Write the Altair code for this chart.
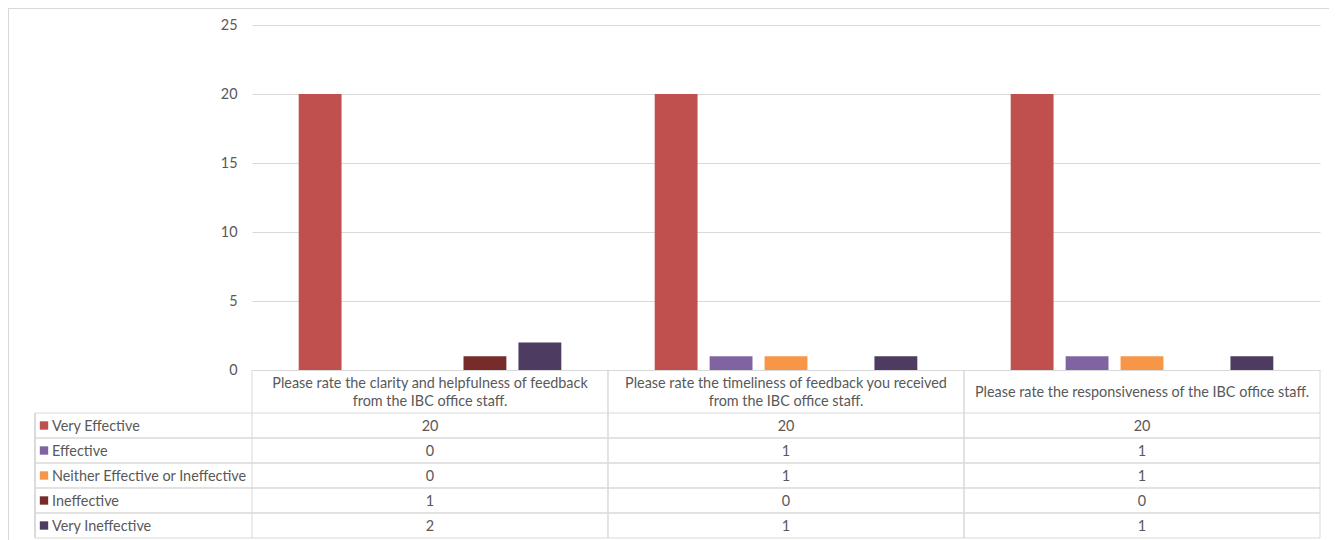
import altair as alt
import pandas as pd

# ---------------- data ----------------
questions = [
    "Please rate the clarity and helpfulness of feedback from the IBC office staff.",
    "Please rate the timeliness of feedback you received from the IBC office staff.",
    "Please rate the responsiveness of the IBC office staff.",
]
series = [
    "Very Effective",
    "Effective",
    "Neither Effective or Ineffective",
    "Ineffective",
    "Very Ineffective",
]
q1_values = [20, 0, 0, 1, 2]
q2_values = [20, 1, 1, 0, 1]
q3_values = [20, 1, 1, 0, 1]
colors = ["#C0504D", "#8064A2", "#F79646", "#772C2A", "#4D3B62"]
y_ticks = [0, 5, 10, 15, 20, 25]

rows = []
for q, vals in zip(questions, [q1_values, q2_values, q3_values]):
    for s, v in zip(series, vals):
        rows.append({"question": q, "series": s, "value": v})
df = pd.DataFrame(rows)
series_df = pd.DataFrame({"series": series})
question_df = pd.DataFrame({"question": questions})

# ---------------- geometry / style ----------------
W = 1068          # plot area width
H = 345           # plot area height (bars)
HEADER_H = 43     # header row of the data table
TABLE_TOP = H + HEADER_H
TABLE_BOTTOM = TABLE_TOP + 25 * len(series)
LABEL_LEFT = -217  # left edge of the series-label column
FONT = "Lato"
FS = 14.4
TXT = "#595959"
LINE = "#D9D9D9"

x_scale = alt.Scale(domain=questions, paddingInner=0, paddingOuter=0)
off_scale = alt.Scale(domain=series, paddingInner=0.22, paddingOuter=0.85)
color_scale = alt.Scale(domain=series, range=colors)
row_scale = alt.Scale(domain=series, range=[TABLE_TOP, TABLE_BOTTOM],
                      paddingInner=0, paddingOuter=0)

wrap_test = "indexof(datum.label, ' from the IBC') >= 0"
label_expr = "split(replace(datum.label, ' from the IBC', '|from the IBC'), '|')"

bars = alt.Chart(df).mark_bar(stroke=None).encode(
    x=alt.X("question:N", scale=x_scale, sort=questions, title=None,
            axis=alt.Axis(domain=False, ticks=False, labelAngle=0,
                          labelAlign="center", labelBaseline="middle",
                          labelPadding={"condition": {"test": wrap_test, "value": 13.5},
                                        "value": HEADER_H / 2 + 0.5},
                          labelLimit=400,
                          labelLineHeight=18, labelExpr=label_expr,
                          labelFont=FONT, labelFontSize=FS, labelColor=TXT)),
    xOffset=alt.XOffset("series:N", scale=off_scale, sort=series),
    y=alt.Y("value:Q", scale=alt.Scale(domain=[0, 25], nice=False), title=None,
            axis=alt.Axis(values=y_ticks, domain=False, ticks=False,
                          labelPadding=15, labelFont=FONT, labelFontSize=FS,
                          labelColor=TXT, gridColor=LINE, gridWidth=1)),
    color=alt.Color("series:N", scale=color_scale, sort=series, legend=None),
)

cell_text = alt.Chart(df).mark_text(font=FONT, fontSize=FS, color=TXT, dy=1,
                                    baseline="middle", align="center").encode(
    x=alt.X("question:N", scale=x_scale, sort=questions),
    y=alt.Y("series:N", scale=row_scale, sort=series, axis=None),
    text=alt.Text("value:Q"),
)

legend_keys = alt.Chart(series_df).mark_square(size=70, opacity=1).encode(
    x=alt.value(LABEL_LEFT + 9),
    y=alt.Y("series:N", scale=row_scale, sort=series, axis=None),
    color=alt.Color("series:N", scale=color_scale, sort=series, legend=None),
)

legend_labels = alt.Chart(series_df).mark_text(
    font=FONT, fontSize=FS, color=TXT, align="left", baseline="middle", dy=1
).encode(
    x=alt.value(LABEL_LEFT + 17),
    y=alt.Y("series:N", scale=row_scale, sort=series, axis=None),
    text="series:N",
)

row_top_lines = alt.Chart(series_df).mark_rule(color=LINE, strokeWidth=1).encode(
    x=alt.value(LABEL_LEFT), x2=alt.value(W),
    y=alt.Y("series:N", scale=row_scale, sort=series, axis=None, bandPosition=0),
)
row_bottom_lines = alt.Chart(series_df).mark_rule(color=LINE, strokeWidth=1).encode(
    x=alt.value(LABEL_LEFT), x2=alt.value(W),
    y=alt.Y("series:N", scale=row_scale, sort=series, axis=None, bandPosition=1),
)

col_left_lines = alt.Chart(question_df).mark_rule(color=LINE, strokeWidth=1).encode(
    x=alt.X("question:N", scale=x_scale, sort=questions, bandPosition=0),
    y=alt.value(H), y2=alt.value(TABLE_BOTTOM),
)
col_right_lines = alt.Chart(question_df).mark_rule(color=LINE, strokeWidth=1).encode(
    x=alt.X("question:N", scale=x_scale, sort=questions, bandPosition=1),
    y=alt.value(H), y2=alt.value(TABLE_BOTTOM),
)
label_col_line = alt.Chart(series_df).mark_rule(color=LINE, strokeWidth=1).encode(
    x=alt.value(LABEL_LEFT), y=alt.value(TABLE_TOP), y2=alt.value(TABLE_BOTTOM),
)

# outer chart border (top and left edges)
border_top = alt.Chart(series_df).mark_rule(color=LINE, strokeWidth=1).encode(
    x=alt.value(-243.5), x2=alt.value(W + 20), y=alt.value(-16.5),
)
border_left = alt.Chart(series_df).mark_rule(color=LINE, strokeWidth=1).encode(
    x=alt.value(-243.5), y=alt.value(-16.5), y2=alt.value(TABLE_BOTTOM + 20),
)

chart = alt.layer(
    border_top, border_left,
    bars, col_left_lines, col_right_lines, label_col_line,
    row_top_lines, row_bottom_lines,
    cell_text, legend_keys, legend_labels,
).resolve_scale(
    y="independent"
).properties(
    width=W, height=H,
    autosize=alt.AutoSizeParams(type="none"),
    padding={"left": 244, "top": 17, "right": 9, "bottom": 170},
).configure_view(stroke=None)

chart.save("out.html", embed_options={"renderer": "svg", "actions": False})
